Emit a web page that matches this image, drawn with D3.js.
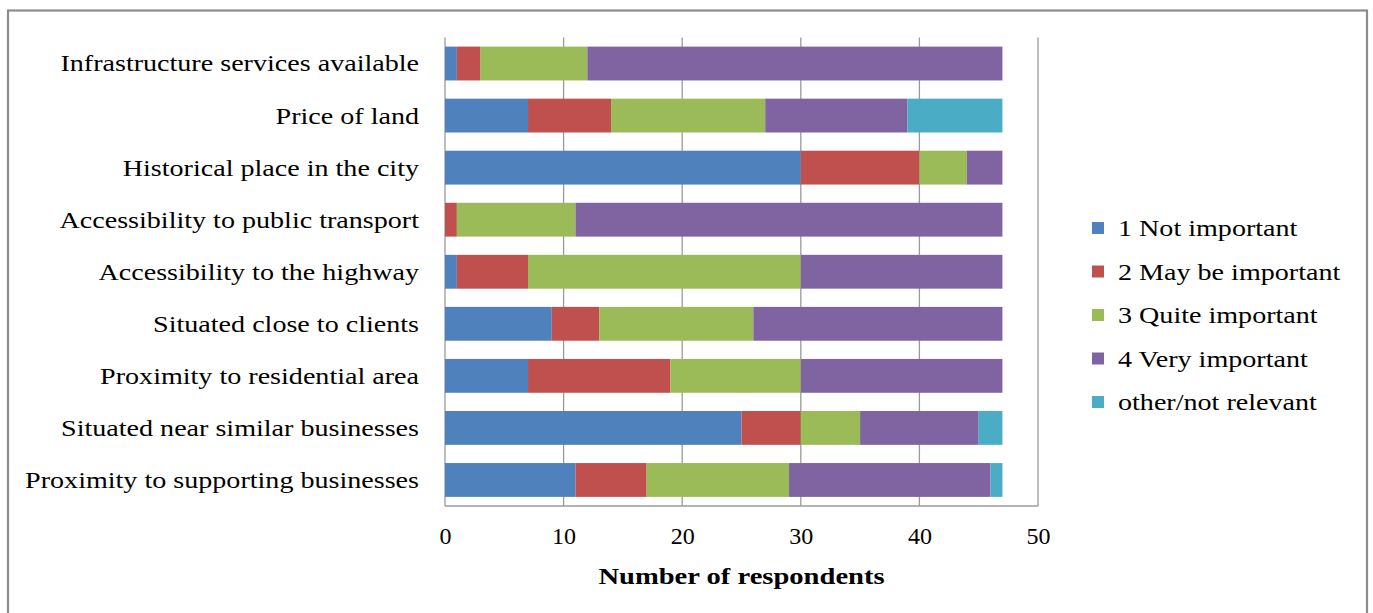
<!DOCTYPE html>
<html>
<head>
<meta charset="utf-8">
<script src="https://cdn.jsdelivr.net/npm/d3@7"></script>
<style>
  html, body { margin: 0; padding: 0; background: #fff; }
  svg { display: block; }
  text { font-family: "Liberation Serif", "Times New Roman", serif; fill: #000; }
</style>
</head>
<body>
<svg id="chart" width="1373" height="613"></svg>
<script>
// Location factors, top to bottom
const categories = [
  "Infrastructure services available",
  "Price of land",
  "Historical place in the city",
  "Accessibility to public transport",
  "Accessibility to the highway",
  "Situated close to clients",
  "Proximity to residential area",
  "Situated near similar businesses",
  "Proximity to supporting businesses"
];

const seriesNames = [
  "1 Not important",
  "2 May be important",
  "3 Quite important",
  "4 Very important",
  "other/not relevant"
];

// Respondent counts per rating, in the same order as categories
const notImportant   = [1, 7, 30, 0, 1, 9, 7, 25, 11];
const mayBeImportant = [2, 7, 10, 1, 6, 4, 12, 5, 6];
const quiteImportant = [9, 13, 4, 10, 23, 13, 11, 5, 12];
const veryImportant  = [35, 12, 3, 36, 17, 21, 17, 10, 17];
const otherNotRelevant = [0, 8, 0, 0, 0, 0, 0, 2, 1];

const xTicks = [0, 10, 20, 30, 40, 50];
const colors = ["#4F81BD", "#C0504D", "#9BBB59", "#8064A2", "#4BACC6"];

const seriesValues = [notImportant, mayBeImportant, quiteImportant, veryImportant, otherNotRelevant];
const rows = categories.map((c, i) => {
  const r = { category: c };
  seriesNames.forEach((s, k) => { r[s] = seriesValues[k][i]; });
  return r;
});

const svg = d3.select("#chart");

// Outer frame
svg.append("rect")
  .attr("x", 8).attr("y", 10.5)
  .attr("width", 1359).attr("height", 620)
  .attr("fill", "none")
  .attr("stroke", "#8c8c8c")
  .attr("stroke-width", 2.2);

const plot = { left: 445, right: 1038, top: 37.5, bottom: 506 };

const x = d3.scaleLinear().domain([0, 50]).range([plot.left, plot.right]);
const y = d3.scaleBand()
  .domain(categories)
  .range([plot.top, plot.bottom])
  .paddingInner(0.35)
  .paddingOuter(0.175);

// Vertical gridlines (include 0 and 50 lines)
svg.append("g")
  .selectAll("line")
  .data(xTicks)
  .join("line")
  .attr("x1", d => x(d)).attr("x2", d => x(d))
  .attr("y1", plot.top).attr("y2", plot.bottom)
  .attr("stroke", "#9a9a9a")
  .attr("stroke-width", 1.3);

// Bottom axis line
svg.append("line")
  .attr("x1", plot.left).attr("x2", plot.right)
  .attr("y1", plot.bottom).attr("y2", plot.bottom)
  .attr("stroke", "#9a9a9a")
  .attr("stroke-width", 1.3);

// Stacked bars
const stack = d3.stack().keys(seriesNames);
const stacked = stack(rows);

svg.append("g")
  .selectAll("g")
  .data(stacked)
  .join("g")
  .attr("fill", (d, i) => colors[i])
  .selectAll("rect")
  .data(d => d)
  .join("rect")
  .attr("x", d => x(d[0]))
  .attr("y", d => y(d.data.category))
  .attr("width", d => x(d[1]) - x(d[0]))
  .attr("height", y.bandwidth());

// X axis (labels only)
const xAxis = d3.axisBottom(x).tickValues(xTicks).tickSize(0).tickPadding(0);
const gx = svg.append("g")
  .attr("transform", `translate(0,${plot.bottom})`)
  .call(xAxis);
gx.select(".domain").remove();
gx.selectAll("text")
  .attr("y", 30)
  .attr("dy", "0.35em")
  .style("font-family", "'Liberation Serif', serif")
  .style("font-size", "24px")
  .attr("fill", "#000");

// Y axis (category labels only)
const yAxis = d3.axisLeft(y).tickSize(0).tickPadding(0);
const gy = svg.append("g")
  .attr("transform", `translate(${plot.left},0)`)
  .call(yAxis);
gy.select(".domain").remove();
gy.selectAll("text")
  .attr("x", -26)
  .attr("dy", "0.33em")
  .style("font-family", "'Liberation Serif', serif")
  .style("font-size", "24px")
  .attr("fill", "#000")
  .each(function () {
    // widen to the spacing used in the original layout
    const w = this.getComputedTextLength();
    d3.select(this).attr("textLength", w * 1.17).attr("lengthAdjust", "spacingAndGlyphs");
  });

// Axis title
svg.append("text")
  .attr("x", (plot.left + plot.right) / 2)
  .attr("y", 576)
  .attr("dy", "0.35em")
  .attr("text-anchor", "middle")
  .style("font-size", "24px")
  .style("font-weight", "bold")
  .text("Number of respondents")
  .each(function () {
    const w = this.getComputedTextLength();
    d3.select(this).attr("textLength", w * 1.19).attr("lengthAdjust", "spacingAndGlyphs");
  });

// Legend
const legend = svg.append("g").attr("transform", "translate(1092,228)");
const li = legend.selectAll("g")
  .data(seriesNames)
  .join("g")
  .attr("transform", (d, i) => `translate(0,${i * 43.5})`);
li.append("rect")
  .attr("x", 0).attr("y", -6)
  .attr("width", 12).attr("height", 12)
  .attr("fill", (d, i) => colors[i]);
li.append("text")
  .attr("x", 26)
  .attr("dy", "0.35em")
  .style("font-size", "24px")
  .text(d => d)
  .each(function () {
    const w = this.getComputedTextLength();
    d3.select(this).attr("textLength", w * 1.17).attr("lengthAdjust", "spacingAndGlyphs");
  });
</script>
</body>
</html>
